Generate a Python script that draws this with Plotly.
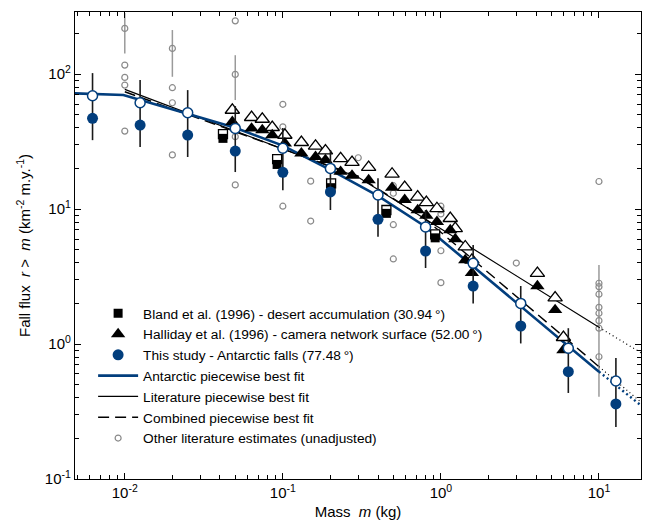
import plotly.graph_objects as go

# ---------------- data ----------------
antarctic_mass = [0.00625, 0.0125, 0.025, 0.05, 0.1, 0.2, 0.4, 0.8, 1.6, 3.2, 6.4, 12.8]
antarctic_flux = [47.0, 41.9, 35.3, 26.9, 18.7, 13.4, 8.39, 4.89, 2.69, 1.36, 0.624, 0.360]
antarctic_flux_hi = [101.7, 90.3, 76.1, 57.9, 39.8, 27.4, 16.9, 9.84, 5.41, 2.69, 1.31, 0.787]
antarctic_flux_lo = [32.4, 28.8, 24.3, 18.8, 13.8, 9.84, 6.24, 3.66, 2.0, 1.01, 0.434, 0.243]
antarctic_adj = [69.1, 61.3, 51.7, 39.6, 28.2, 20.0, 12.7, 7.36, 3.96, 2.00, 0.93, 0.532]

halliday_mass = [0.0479, 0.0634, 0.0741, 0.0857, 0.103, 0.131, 0.161, 0.186, 0.232, 0.274,
                 0.349, 0.491, 0.590, 0.713, 0.809, 0.944, 1.146, 1.233, 1.426, 1.571,
                 4.08, 5.28, 5.96]
halliday_flux = [44.3, 39.6, 38.5, 35.3, 30.7, 25.9, 24.4, 23.1, 18.9, 17.7,
                 16.4, 14.4, 11.7, 9.83, 8.95, 8.05, 6.99, 5.99, 4.19, 3.36,
                 2.69, 1.79, 0.903]
halliday_adj = [54.1, 47.8, 46.4, 40.3, 35.3, 31.2, 29.3, 27.0, 23.7, 22.2,
                20.4, 18.2, 14.5, 12.3, 11.2, 10.1, 8.53, 7.19, 5.26, 4.19,
                3.34, 2.20, 1.12]

bland_mass = [0.0418, 0.092, 0.202, 0.452, 0.92]
bland_flux = [33.4, 21.4, 14.4, 9.29, 6.12]
bland_adj = [35.9, 23.4, 15.5, 9.84, 6.50]

other_mass = [0.01, 0.01, 0.01, 0.01, 0.01,
              0.02, 0.02, 0.02, 0.02,
              0.05, 0.05, 0.05, 0.05,
              0.1, 0.1, 0.1,
              0.15, 0.15,
              0.3,
              0.5, 0.5, 0.5, 0.5,
              1.0, 1.0, 1.0, 1.0, 1.0,
              3.0,
              10, 10, 10, 10, 10, 10, 10, 10, 10]
other_flux = [218, 116.6, 94.5, 82.9, 37.8,
              155, 79.3, 61.3, 25.2,
              248, 99.5, 34.4, 15.1,
              59.7, 40.7, 10.5,
              16.1, 8.15,
              24.0,
              14.9, 13.1, 7.66, 4.27,
              10.5, 9.84, 9.2, 4.91, 2.85,
              3.98,
              16.0, 2.82, 2.66, 2.34, 1.87, 1.69, 1.49, 1.31, 0.805]
other_bar_mass = [0.01, 0.02, 0.05, 10]
other_bar_lo = [142, 95.5, 64.2, 0.407]
other_bar_hi = [283, 212, 138, 3.85]

fit_antarctic_mass = [0.00476, 0.0098, 0.05, 0.1, 0.2, 0.4, 0.8, 10]
fit_antarctic_flux = [72, 70, 40, 29.5, 19.5, 12.5, 7.4, 0.624]
fit_antarctic_ext_mass = [10, 18.5]
fit_antarctic_ext_flux = [0.624, 0.35]

fit_lit_mass = [0.01, 0.3, 10]
fit_lit_flux = [77, 17.2, 1.33]
fit_lit_ext_mass = [10, 18.5]
fit_lit_ext_flux = [1.33, 0.86]

fit_comb_mass = [0.01, 0.3, 0.8, 10]
fit_comb_flux = [74, 17.5, 8.4, 0.68]
fit_comb_ext_mass = [10, 18.5]
fit_comb_ext_flux = [0.68, 0.37]

x_tick_vals = [0.01, 0.1, 1, 10]
x_tick_text = ["10<sup>-2</sup>", "10<sup>-1</sup>", "10<sup>0</sup>", "10<sup>1</sup>"]
y_tick_vals = [0.1, 1, 10, 100]
y_tick_text = ["10<sup>-1</sup>", "10<sup>0</sup>", "10<sup>1</sup>", "10<sup>2</sup>"]

# ---------------- styling ----------------
BLUE = "#023e7d"
GRAY = "#8a8a8a"
FONT = "Liberation Sans, Arial, sans-serif"

fig = go.Figure()

# gray literature error bars
bar_x, bar_y = [], []
for m, lo, hi in zip(other_bar_mass, other_bar_lo, other_bar_hi):
    bar_x += [m, m, None]
    bar_y += [lo, hi, None]
fig.add_trace(go.Scatter(x=bar_x, y=bar_y, mode="lines", line=dict(color="#9a9a9a", width=1.5),
                         showlegend=False, hoverinfo="skip"))
fig.add_trace(go.Scatter(x=other_mass, y=other_flux, mode="markers",
                         name="Other literature estimates (unadjusted)",
                         marker=dict(symbol="circle-open", size=6, color=GRAY, line=dict(width=1.2, color=GRAY)),
                         legendrank=7))

# fits
fig.add_trace(go.Scatter(x=fit_lit_mass, y=fit_lit_flux, mode="lines",
                         name="Literature piecewise best fit",
                         line=dict(color="black", width=1.2), legendrank=5))
fig.add_trace(go.Scatter(x=fit_lit_ext_mass, y=fit_lit_ext_flux, mode="lines",
                         line=dict(color="black", width=1.2, dash="1px,3px"), showlegend=False))
fig.add_trace(go.Scatter(x=fit_comb_mass, y=fit_comb_flux, mode="lines",
                         name="Combined piecewise best fit",
                         line=dict(color="black", width=1.4, dash="11px,6px"), legendrank=6))
fig.add_trace(go.Scatter(x=fit_comb_ext_mass, y=fit_comb_ext_flux, mode="lines",
                         line=dict(color="black", width=1.2, dash="1px,3px"), showlegend=False))
fig.add_trace(go.Scatter(x=fit_antarctic_mass, y=fit_antarctic_flux, mode="lines",
                         name="Antarctic piecewise best fit",
                         line=dict(color=BLUE, width=2.6), legendrank=4))
fig.add_trace(go.Scatter(x=fit_antarctic_ext_mass, y=fit_antarctic_ext_flux, mode="lines",
                         line=dict(color=BLUE, width=2.4, dash="2px,3px"), showlegend=False))

# adjusted (open) markers
fig.add_trace(go.Scatter(x=bland_mass, y=bland_adj, mode="markers", showlegend=False,
                         marker=dict(symbol="square", size=9, color="white", line=dict(width=1.3, color="black"))))
fig.add_trace(go.Scatter(x=halliday_mass, y=halliday_adj, mode="markers", showlegend=False,
                         marker=dict(symbol="triangle-up", size=12.5, color="white", line=dict(width=1.3, color="black"))))

# unadjusted (filled) markers
fig.add_trace(go.Scatter(x=bland_mass, y=bland_flux, mode="markers",
                         name="Bland et al. (1996) - desert accumulation (30.94\u2009\u00b0)",
                         marker=dict(symbol="square", size=9, color="black", line=dict(width=0)), legendrank=1))
fig.add_trace(go.Scatter(x=halliday_mass, y=halliday_flux, mode="markers",
                         name="Halliday et al. (1996) - camera network surface (52.00\u2009\u00b0)",
                         marker=dict(symbol="triangle-up", size=12.5, color="black", line=dict(width=0)), legendrank=2))

# Antarctic: error bars + open adjusted circles + filled circles
err_plus = [h - f for h, f in zip(antarctic_flux_hi, antarctic_flux)]
err_minus = [f - l for f, l in zip(antarctic_flux, antarctic_flux_lo)]
fig.add_trace(go.Scatter(x=antarctic_mass, y=antarctic_flux, mode="markers", showlegend=False,
                         marker=dict(size=1, color="rgba(0,0,0,0)"),
                         error_y=dict(type="data", array=err_plus, arrayminus=err_minus,
                                      color="#1a1a1a", thickness=1.6, width=0)))
fig.add_trace(go.Scatter(x=antarctic_mass, y=antarctic_adj, mode="markers", showlegend=False,
                         marker=dict(symbol="circle", size=10, color="white", line=dict(width=1.5, color=BLUE))))
fig.add_trace(go.Scatter(x=antarctic_mass, y=antarctic_flux, mode="markers",
                         name="This study - Antarctic falls (77.48\u2009\u00b0)",
                         marker=dict(symbol="circle", size=11, color=BLUE, line=dict(width=0)), legendrank=3))

def minor_vals(lo_exp, hi_exp):
    return [k * 10.0 ** e for e in range(lo_exp, hi_exp + 1) for k in range(2, 10)]

axis_common = dict(type="log", showgrid=False, zeroline=False, showline=True,
                   linecolor="black", linewidth=1.3, mirror="allticks",
                   ticks="inside", ticklen=6, tickwidth=1.2, tickcolor="black",
                   tickfont=dict(family=FONT, size=15, color="black"))

fig.update_xaxes(**axis_common, range=[-2.315, 1.266], tickmode="array",
                 tickvals=x_tick_vals, ticktext=x_tick_text,
                 minor=dict(ticks="inside", ticklen=4, tickwidth=1, tickcolor="black",
                            tickmode="array", tickvals=minor_vals(-3, 1)),
                 title=dict(text="Mass  <i>m</i> (kg)", font=dict(family=FONT, size=15, color="black"),
                            standoff=6))
fig.update_yaxes(**axis_common, range=[-1, 2.46], tickmode="array",
                 tickvals=y_tick_vals, ticktext=y_tick_text,
                 minor=dict(ticks="inside", ticklen=4, tickwidth=1, tickcolor="black",
                            tickmode="array", tickvals=minor_vals(-1, 2)),
                 title=dict(text="Fall flux  <i>r</i> >  <i>m</i> (km<sup>-2</sup> m.y.<sup>-1</sup>)",
                            font=dict(family=FONT, size=15, color="black"), standoff=10))

fig.update_layout(
    width=646, height=523,
    margin=dict(l=75, r=5, t=12, b=44),
    paper_bgcolor="white", plot_bgcolor="white",
    font=dict(family=FONT, size=14, color="black"),
    legend=dict(x=0.032, y=0.388, xanchor="left", yanchor="top",
                bgcolor="rgba(0,0,0,0)", borderwidth=0,
                font=dict(family=FONT, size=13.7, color="black"),
                tracegroupgap=0, itemwidth=40),
)

fig.write_html("out.html",
               config={"displayModeBar": False},
               post_script="document.body.style.margin='0';document.body.style.padding='0';")
